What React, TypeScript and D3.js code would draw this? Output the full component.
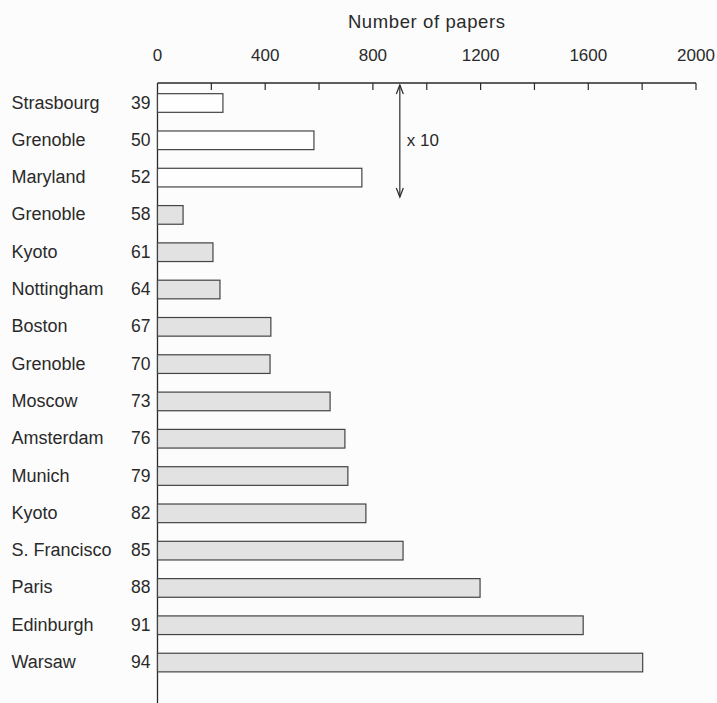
import React from "react";
import * as d3 from "d3";

const cities = ["Strasbourg","Grenoble","Maryland","Grenoble","Kyoto","Nottingham","Boston","Grenoble","Moscow","Amsterdam","Munich","Kyoto","S. Francisco","Paris","Edinburgh","Warsaw"];
const years = ["39","50","52","58","61","64","67","70","73","76","79","82","85","88","91","94"];
const papers = [243, 581, 759, 95, 206, 232, 421, 418, 641, 696, 707, 774, 912, 1198, 1581, 1802];
const scaledX10 = [true, true, true, false, false, false, false, false, false, false, false, false, false, false, false, false];
const tickValues = [0, 400, 800, 1200, 1600, 2000];
const minorTicks = [200, 600, 1000, 1400, 1800];
const axisTitle = "Number of papers";
const arrowLabel = "x 10";
const arrowAt = 900;

const W = 717, H = 703;
const FONT = "'Liberation Sans', Arial, Helvetica, sans-serif";

export default function App() {
  const x = d3.scaleLinear().domain([0, 2000]).range([157.5, 696]);
  const ids = cities.map((_, i) => String(i));
  const y = d3.scaleBand<string>().domain(ids).range([84.35, 681.2]).paddingInner(0.5).paddingOuter(0.25);
  const bw = y.bandwidth();
  const axisY = 83;
  const first = y("0")!;
  const third = y("2")!;
  const ax = x(arrowAt);
  const aTop = 85, aBot = 197;
  const ink = "#2a2a2a";
  return (
    <svg width={W} height={H} style={{ position: "absolute", left: 0, top: 0, background: "#fcfcfc" }} fontFamily={FONT}>
      <rect x={0} y={0} width={W} height={H} fill="#fcfcfc" />
      <text x={(x(0) + x(2000)) / 2} y={27.5} textAnchor="middle" fontSize={18.5} fill={ink} letterSpacing={0.6}>{axisTitle}</text>
      {tickValues.map(t => (
        <text key={t} x={x(t)} y={61} textAnchor="middle" fontSize={17} fill={ink}>{t}</text>
      ))}
      <line x1={x(0)} x2={x(2000)} y1={axisY} y2={axisY} stroke={ink} strokeWidth={1.3} />
      {[...tickValues.slice(1), ...minorTicks].map(t => (
        <line key={"t" + t} x1={x(t)} x2={x(t)} y1={axisY} y2={axisY + 7} stroke={ink} strokeWidth={1.2} />
      ))}
      <line x1={x(0)} x2={x(0)} y1={axisY} y2={H} stroke={ink} strokeWidth={1.3} />
      {papers.map((v, i) => {
        const yy = y(String(i))!;
        return (
          <g key={i}>
            <rect x={x(0)} y={yy} width={x(v) - x(0)} height={bw}
              fill={scaledX10[i] ? "#fefefe" : "#e2e2e2"} stroke="#444" strokeWidth={1.2} />
            <text x={11.5} y={yy + bw / 2 + 5.5} fontSize={18} fill={ink}>{cities[i]}</text>
            <text x={150.5} y={yy + bw / 2 + 5.5} textAnchor="end" fontSize={17.5} fill={ink}>{years[i]}</text>
          </g>
        );
      })}
      <line x1={ax} x2={ax} y1={aTop} y2={aBot} stroke={ink} strokeWidth={1.2} />
      <path d={`M${ax - 3.5},${aTop + 9} L${ax},${aTop} L${ax + 3.5},${aTop + 9}`} fill="none" stroke={ink} strokeWidth={1.2} />
      <path d={`M${ax - 3.5},${aBot - 9} L${ax},${aBot} L${ax + 3.5},${aBot - 9}`} fill="none" stroke={ink} strokeWidth={1.2} />
      <text x={ax + 7} y={(first + third + bw) / 2 + 5.5} fontSize={17} fill={ink}>{arrowLabel}</text>
    </svg>
  );
}
